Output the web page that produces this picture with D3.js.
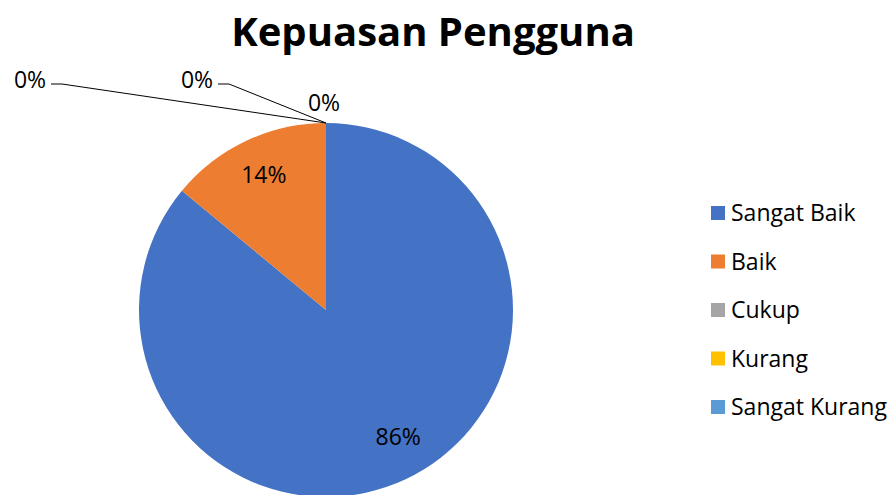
<!DOCTYPE html>
<html>
<head>
<meta charset="utf-8">
<script src="https://cdn.jsdelivr.net/npm/d3@7"></script>
<style>
  body { margin: 0; background: #fff; }
  text { font-family: "Open Sans", "Liberation Sans", sans-serif; fill: #000; }
</style>
</head>
<body>
<div id="chart"></div>
<script>
const categories = ['Sangat Baik', 'Baik', 'Cukup', 'Kurang', 'Sangat Kurang'];
const values = [86, 14, 0, 0, 0];
const colors = ['#4472C4', '#ED7D31', '#A5A5A5', '#FFC000', '#5B9BD5'];
const labelText = ['86%', '14%', '0%', '0%', '0%'];

const width = 890, height = 495;
const cx = 326, cy = 310, radius = 187;

const svg = d3.select('#chart').append('svg')
  .attr('width', width)
  .attr('height', height);

svg.append('text')
  .attr('x', 433)
  .attr('y', 46)
  .attr('text-anchor', 'middle')
  .style('font-size', '40px')
  .style('font-weight', 'bold')
  .text('Kepuasan Pengguna');

const data = categories.map((c, i) => ({ name: c, value: values[i], color: colors[i], label: labelText[i] }));

const pie = d3.pie().value(d => d.value).sort(null);
const arcs = pie(data);
const arc = d3.arc().innerRadius(0).outerRadius(radius);

const g = svg.append('g').attr('transform', `translate(${cx},${cy})`);

g.selectAll('path.slice')
  .data(arcs)
  .join('path')
  .attr('class', 'slice')
  .attr('d', arc)
  .attr('fill', d => d.data.color);

// labels inside non-empty slices
const inArc = d3.arc().innerRadius(radius * 0.68).outerRadius(radius * 0.68);
g.selectAll('text.inlabel')
  .data(arcs.filter(d => d.value > 0))
  .join('text')
  .attr('class', 'inlabel')
  .attr('transform', (d, i) => {
    const [x, y] = inArc.centroid(d);
    return i === 0 ? `translate(${x + 18},${y + 12})` : `translate(${x - 8},${y - 20})`;
  })
  .attr('text-anchor', 'middle')
  .attr('dy', '0.35em')
  .style('font-size', '23px')
  .text(d => d.data.label);

// zero slices: labels placed outside with leader lines
const zeroArcs = arcs.filter(d => d.value === 0);
const labelOffsets = [[-296, -43], [-129, -43], [-2, -20]];
zeroArcs.forEach((d, i) => {
  const a = d.startAngle;
  const px = radius * Math.sin(a), py = -radius * Math.cos(a);
  const [ox, oy] = labelOffsets[i];
  const lx = px + ox, ly = py + oy;
  g.append('text')
    .attr('x', lx)
    .attr('y', ly)
    .attr('text-anchor', 'middle')
    .attr('dy', '0.35em')
    .style('font-size', '23px')
    .text(d.data.label);
  if (i < 2) {
    const sx = lx + 21, kx = lx + 32;
    g.append('path')
      .attr('d', `M${sx},${ly + 4}L${kx},${ly + 4}L${px},${py}`)
      .attr('fill', 'none')
      .attr('stroke', '#000')
      .attr('stroke-width', 1);
  }
});

// legend
const legend = svg.append('g').attr('transform', 'translate(711,213)');
const row = legend.selectAll('g')
  .data(data)
  .join('g')
  .attr('transform', (d, i) => `translate(0,${i * 48.5})`);
row.append('rect')
  .attr('x', 0).attr('y', -7)
  .attr('width', 14).attr('height', 14)
  .attr('fill', d => d.color);
row.append('text')
  .attr('x', 20)
  .attr('dy', '0.35em')
  .style('font-size', '23px')
  .text(d => d.name);
</script>
</body>
</html>
